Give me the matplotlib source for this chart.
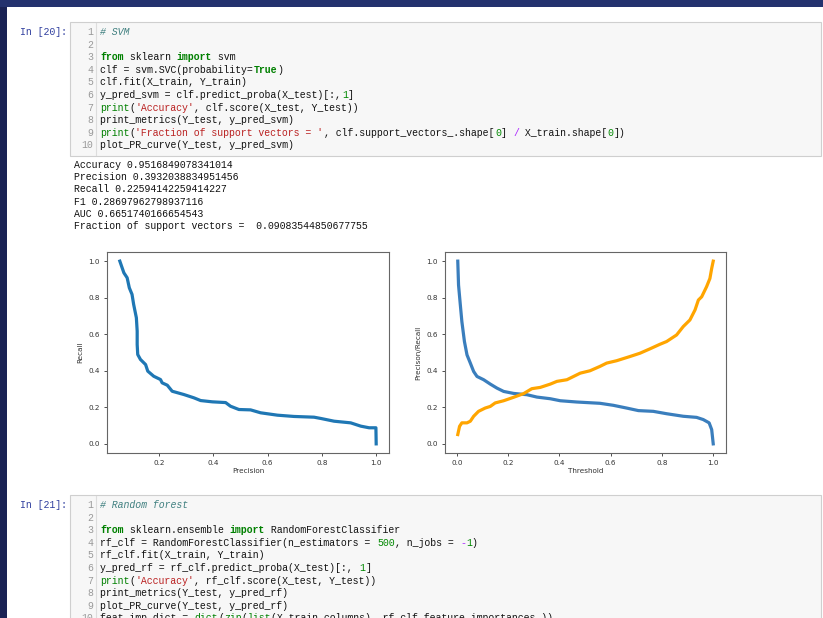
import re
import matplotlib.pyplot as plt
from matplotlib.patches import Rectangle

# screenshot of a notebook: two code cells + output with PR curve plots
W, H = 823, 618

# --- data ---
pr_precision = [0.055, 0.070, 0.082, 0.090, 0.100, 0.106, 0.116, 0.119, 0.119, 0.121,
                0.131, 0.150, 0.158, 0.180, 0.205, 0.211, 0.230, 0.248, 0.291, 0.328,
                0.353, 0.396, 0.445, 0.463, 0.494, 0.537, 0.574, 0.636, 0.697, 0.771,
                0.796, 0.845, 0.906, 0.943, 0.974, 0.999, 1.000]
pr_recall = [1.000, 0.936, 0.909, 0.854, 0.818, 0.763, 0.690, 0.617, 0.544, 0.489,
             0.462, 0.434, 0.398, 0.370, 0.352, 0.334, 0.321, 0.288, 0.270, 0.252,
             0.237, 0.230, 0.226, 0.206, 0.188, 0.186, 0.170, 0.157, 0.150, 0.146,
             0.139, 0.124, 0.115, 0.097, 0.088, 0.088, 0.000]

thr_recall = [0.003, 0.006, 0.013, 0.019, 0.029, 0.039, 0.052, 0.065, 0.078, 0.104,
              0.130, 0.156, 0.182, 0.221, 0.273, 0.312, 0.364, 0.403, 0.468, 0.558,
              0.610, 0.662, 0.708, 0.766, 0.818, 0.883, 0.935, 0.961, 0.984, 0.994, 1.000]
recall_vals = [1.000, 0.869, 0.760, 0.669, 0.560, 0.487, 0.442, 0.396, 0.369, 0.351,
               0.327, 0.305, 0.287, 0.276, 0.269, 0.256, 0.247, 0.236, 0.229, 0.222,
               0.211, 0.196, 0.182, 0.178, 0.165, 0.151, 0.145, 0.133, 0.115, 0.078, 0.000]

thr_precision = [0.003, 0.010, 0.019, 0.039, 0.052, 0.065, 0.084, 0.110, 0.130, 0.149,
                 0.182, 0.221, 0.260, 0.292, 0.325, 0.364, 0.390, 0.429, 0.455, 0.481,
                 0.519, 0.558, 0.584, 0.623, 0.675, 0.714, 0.753, 0.792, 0.818, 0.857,
                 0.883, 0.909, 0.929, 0.942, 0.955, 0.974, 0.987, 0.994, 1.000]
precision_vals = [0.051, 0.096, 0.115, 0.115, 0.124, 0.151, 0.178, 0.196, 0.205, 0.224,
                  0.236, 0.255, 0.275, 0.302, 0.309, 0.327, 0.342, 0.351, 0.369, 0.387,
                  0.400, 0.424, 0.442, 0.455, 0.478, 0.496, 0.520, 0.545, 0.560, 0.596,
                  0.642, 0.678, 0.733, 0.787, 0.805, 0.860, 0.905, 0.960, 1.000]

cell1_code = [
    "# SVM",
    "",
    "from sklearn import svm",
    "clf = svm.SVC(probability=True)",
    "clf.fit(X_train, Y_train)",
    "y_pred_svm = clf.predict_proba(X_test)[:,1]",
    "print('Accuracy', clf.score(X_test, Y_test))",
    "print_metrics(Y_test, y_pred_svm)",
    "print('Fraction of support vectors = ', clf.support_vectors_.shape[0] / X_train.shape[0])",
    "plot_PR_curve(Y_test, y_pred_svm)",
]
cell1_output = [
    "Accuracy 0.9516849078341014",
    "Precision 0.3932038834951456",
    "Recall 0.22594142259414227",
    "F1 0.28697962798937116",
    "AUC 0.6651740166654543",
    "Fraction of support vectors =  0.09083544850677755",
]
cell2_code = [
    "# Random forest",
    "",
    "from sklearn.ensemble import RandomForestClassifier",
    "rf_clf = RandomForestClassifier(n_estimators = 500, n_jobs = -1)",
    "rf_clf.fit(X_train, Y_train)",
    "y_pred_rf = rf_clf.predict_proba(X_test)[:, 1]",
    "print('Accuracy', rf_clf.score(X_test, Y_test))",
    "print_metrics(Y_test, y_pred_rf)",
    "plot_PR_curve(Y_test, y_pred_rf)",
    "feat_imp_dict = dict(zip(list(X_train.columns), rf_clf.feature_importances_))",
]

MONO = 'Liberation Mono'
FS = 7.1
CW = 5.9      # char width in px
LH = 12.6     # code line height in px
TICK_FS = 5.2

fig = plt.figure(figsize=(W / 100, H / 100), dpi=100)
fig.patch.set_facecolor('#1a2254')


def fx(x):
    return x / W


def fy(y):
    return 1 - y / H


def rect(x0, y0, x1, y1, z=-5, **kw):
    fig.add_artist(Rectangle((fx(x0), fy(y1)), fx(x1) - fx(x0), fy(y0) - fy(y1),
                             transform=fig.transFigure, zorder=z, **kw))


# page background
rect(0, 0, W, 7, facecolor='#24326e', edgecolor='none')
rect(7, 7, W + 5, H + 5, facecolor='white', edgecolor='none')

token_re = re.compile(r"(?P<com>#.*)|(?P<str>'[^']*')|(?P<kw>\b(?:from|import|True)\b)"
                      r"|(?P<bi>\b(?:print|dict|zip|list)\b(?=\())|(?P<num>\b\d+\b)|(?P<op>[/\-])")
styles = {
    'com': dict(color='#408080', style='italic'),
    'str': dict(color='#BA2121'),
    'kw': dict(color='#008000', weight='bold'),
    'bi': dict(color='#008000'),
    'num': dict(color='#008800'),
    'op': dict(color='#AA22FF'),
}


def put(x, y, s, **kw):
    fig.text(fx(x), fy(y), s, fontfamily=MONO, fontsize=FS, va='center', ha='left', **kw)


def code_line(x, y, line):
    pos = 0
    for m in token_re.finditer(line):
        if m.start() > pos:
            put(x + pos * CW, y, line[pos:m.start()], color='#111111')
        put(x + m.start() * CW, y, m.group(), **styles[m.lastgroup])
        pos = m.end()
    if pos < len(line):
        put(x + pos * CW, y, line[pos:], color='#111111')


def code_cell(top, bottom, label, lines):
    rect(70, top, 821, bottom, z=-4, facecolor='#f7f7f7', edgecolor='#cfcfcf', lw=0.8)
    fig.add_artist(plt.Line2D([fx(96), fx(96)], [fy(top + 1), fy(min(bottom, H) - 1)],
                              transform=fig.transFigure, color='#dddddd', lw=0.8, zorder=-3))
    y0 = top + 10
    put(20, y0, label, color='#303F9F')
    for i, line in enumerate(lines):
        y = y0 + i * LH
        fig.text(fx(93), fy(y), str(i + 1), fontfamily=MONO, fontsize=FS,
                 va='center', ha='right', color='#999999')
        code_line(100, y, line)


code_cell(22, 156, 'In [20]:', cell1_code)
for i, line in enumerate(cell1_output):
    put(74, 165 + i * 12.2, line, color='#111111')
code_cell(495, H + 10, 'In [21]:', cell2_code)


def style_axes(ax):
    for sp in ax.spines.values():
        sp.set_color('#666666')
        sp.set_linewidth(0.8)
    ax.tick_params(labelsize=TICK_FS, colors='#333333', length=2.5, width=0.6, pad=2.5)
    ax.set_yticks([0.0, 0.2, 0.4, 0.6, 0.8, 1.0])


ax1 = fig.add_axes([fx(107), fy(453), fx(389) - fx(107), fy(252) - fy(453)])
ax1.plot(pr_precision, pr_recall, color='#1f77b4', lw=2.3)
ax1.set_xlabel('Precision', fontsize=TICK_FS, color='#333333', labelpad=1.5)
ax1.set_ylabel('Recall', fontsize=TICK_FS, color='#333333', labelpad=3.5)
style_axes(ax1)

ax2 = fig.add_axes([fx(445), fy(453), fx(726) - fx(445), fy(252) - fy(453)])
ax2.plot(thr_recall, recall_vals, color='#3a7ebd', lw=2.3)
ax2.plot(thr_precision, precision_vals, color='#ffa500', lw=2.3)
ax2.set_xlabel('Threshold', fontsize=TICK_FS, color='#333333', labelpad=1.5)
ax2.set_ylabel('Precison/Recall', fontsize=TICK_FS, color='#333333', labelpad=3.5)
style_axes(ax2)

fig.savefig('out.png', dpi=100, facecolor=fig.get_facecolor())
